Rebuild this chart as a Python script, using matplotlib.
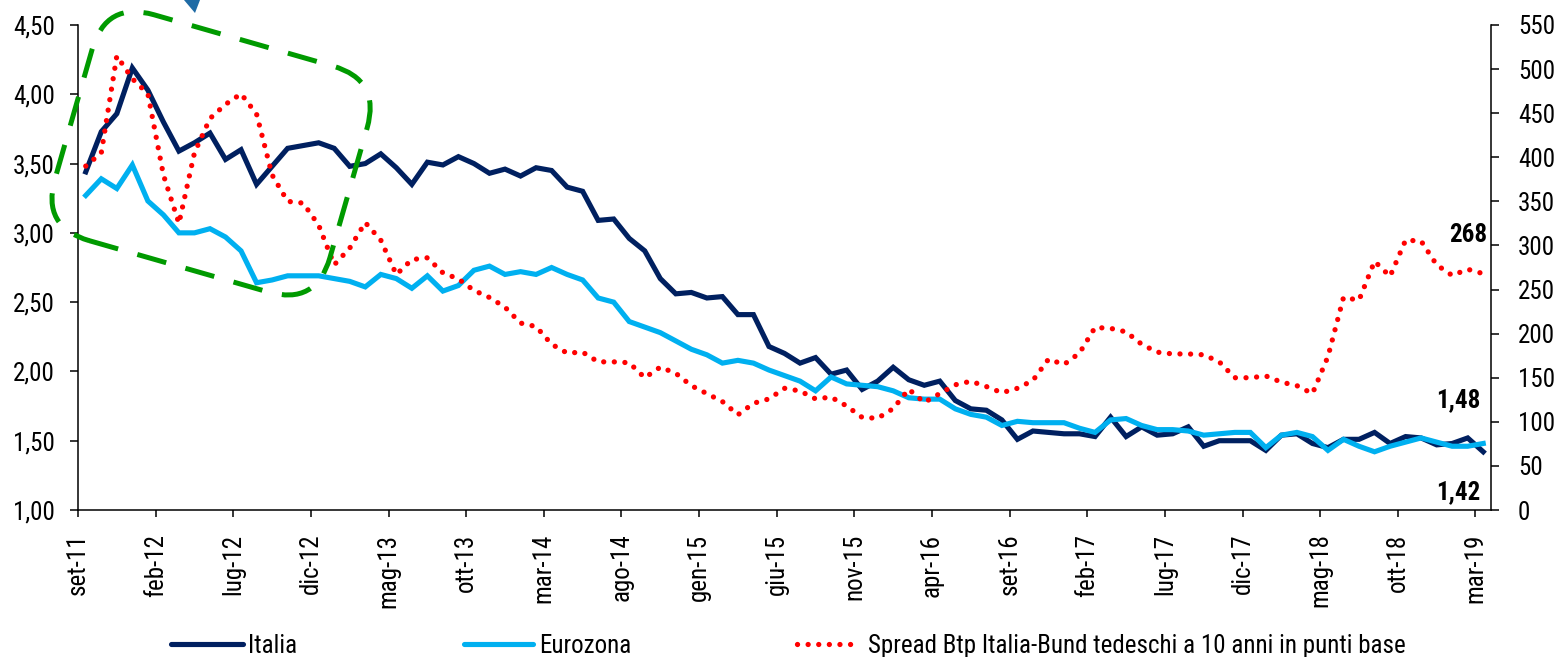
import matplotlib
matplotlib.use("Agg")
import matplotlib.pyplot as plt
from matplotlib import font_manager
from matplotlib.patches import FancyBboxPatch, Polygon
from matplotlib.lines import Line2D
from matplotlib.transforms import Affine2D
from matplotlib.ticker import FuncFormatter, MultipleLocator

# --- data (monthly, set-11 .. mar-19) ---
italia = [3.44, 3.73, 3.86, 4.19, 4.03, 3.80, 3.59, 3.65, 3.72, 3.53,
          3.60, 3.35, 3.48, 3.61, 3.63, 3.65, 3.61, 3.48, 3.50, 3.57,
          3.47, 3.35, 3.51, 3.49, 3.55, 3.50, 3.43, 3.46, 3.41, 3.47,
          3.45, 3.33, 3.30, 3.09, 3.10, 2.96, 2.87, 2.67, 2.56, 2.57,
          2.53, 2.54, 2.41, 2.41, 2.18, 2.13, 2.06, 2.10, 1.98, 2.01,
          1.87, 1.93, 2.03, 1.94, 1.90, 1.93, 1.79, 1.73, 1.72, 1.65,
          1.51, 1.57, 1.56, 1.55, 1.55, 1.53, 1.67, 1.53, 1.60, 1.54,
          1.55, 1.60, 1.46, 1.50, 1.50, 1.50, 1.43, 1.54, 1.55, 1.48,
          1.45, 1.51, 1.51, 1.56, 1.48, 1.53, 1.52, 1.47, 1.48, 1.52,
          1.42]
eurozona = [3.27, 3.39, 3.32, 3.49, 3.23, 3.13, 3.00, 3.00, 3.03, 2.97,
            2.87, 2.64, 2.66, 2.69, 2.69, 2.69, 2.67, 2.65, 2.61, 2.70,
            2.67, 2.60, 2.69, 2.58, 2.62, 2.73, 2.76, 2.70, 2.72, 2.70,
            2.75, 2.70, 2.66, 2.53, 2.50, 2.36, 2.32, 2.28, 2.22, 2.16,
            2.12, 2.06, 2.08, 2.06, 2.01, 1.97, 1.93, 1.86, 1.96, 1.91,
            1.90, 1.89, 1.86, 1.81, 1.80, 1.80, 1.73, 1.69, 1.67, 1.61,
            1.64, 1.63, 1.63, 1.63, 1.59, 1.56, 1.65, 1.66, 1.61, 1.58,
            1.58, 1.57, 1.54, 1.55, 1.56, 1.56, 1.45, 1.54, 1.56, 1.53,
            1.43, 1.51, 1.46, 1.42, 1.46, 1.49, 1.52, 1.49, 1.46, 1.46,
            1.48]
spread = [390, 405, 515, 489, 472, 380, 325, 405, 444, 460,
          472, 449, 380, 350, 348, 323, 278, 297, 326, 306,
          267, 284, 286, 269, 262, 249, 241, 230, 212, 208,
          188, 178, 179, 168, 168, 167, 150, 162, 155, 141,
          132, 123, 108, 121, 126, 138, 135, 126, 128, 118,
          105, 104, 115, 137, 122, 132, 142, 146, 140, 133,
          138, 147, 171, 165, 178, 207, 206, 202, 188, 179,
          177, 177, 176, 168, 150, 150, 152, 145, 141, 132,
          174, 241, 238, 282, 265, 306, 305, 278, 266, 273,
          268]
tick_labels = ["set-11", "feb-12", "lug-12", "dic-12", "mag-13", "ott-13",
               "mar-14", "ago-14", "gen-15", "giu-15", "nov-15", "apr-16",
               "set-16", "feb-17", "lug-17", "dic-17", "mag-18", "ott-18",
               "mar-19"]
series_names = ["Italia", "Eurozona",
                "Spread Btp Italia-Bund tedeschi a 10 anni in punti base"]

C_ITA, C_EUR, C_SPR = "#002060", "#00B0F0", "#FF0000"

# narrow sans (Arial Narrow look-alike) if one is installed
names = {f.name for f in font_manager.fontManager.ttflist}
FONT = next((n for n in ["Liberation Sans Narrow", "Nimbus Sans Narrow", "Arial Narrow",
                         "Roboto Condensed", "Archivo Narrow"] if n in names),
            "Liberation Sans")
plt.rcParams["font.family"] = [FONT, "DejaVu Sans"]
FS = 18 if FONT != "Liberation Sans" else 16

W, H = 1566, 657
fig = plt.figure(figsize=(W / 100, H / 100), dpi=100)
ax = fig.add_axes([78 / W, 1 - 510 / H, (1491 - 78) / W, (510 - 25) / H])
ax2 = ax.twinx()

x = [i + 0.5 for i in range(len(italia))]
ax.plot(x, italia, color=C_ITA, lw=3.7, solid_joinstyle="miter")
ax.plot(x, eurozona, color=C_EUR, lw=3.7, solid_joinstyle="miter")
ax2.plot(x, spread, color=C_SPR, lw=3.8, ls=(0, (0.01, 2.0)),
         dash_capstyle="round")

ax.set_xlim(0, 91)
ax.set_ylim(1, 4.5)
ax2.set_ylim(0, 550)
ax.set_xticks(range(0, 91, 5))
ax.set_xticklabels(tick_labels, rotation=90)
ax.yaxis.set_major_locator(MultipleLocator(0.5))
ax.yaxis.set_major_formatter(FuncFormatter(lambda v, p: f"{v:.2f}".replace(".", ",")))
ax2.yaxis.set_major_locator(MultipleLocator(50))

for a in (ax, ax2):
    for s in a.spines.values():
        s.set_linewidth(1.1)
    a.spines["top"].set_visible(False)
ax.spines["right"].set_visible(False)
ax2.spines["left"].set_visible(False)
ax2.spines["bottom"].set_visible(False)
ax.tick_params(axis="x", direction="out", length=5, width=1.1, labelsize=FS, pad=12)
ax.tick_params(axis="y", direction="out", length=5.5, width=1.1, labelsize=FS, pad=11)
ax2.tick_params(axis="y", direction="out", length=5.5, width=1.1, labelsize=FS, pad=14)

# end-of-series labels
ax2.text(89.5, 312, "268", ha="center", va="center", fontsize=FS, fontweight="bold")
ax.text(88.9, 1.79, "1,48", ha="center", va="center", fontsize=FS, fontweight="bold")
ax.text(88.9, 1.13, "1,42", ha="center", va="center", fontsize=FS, fontweight="bold")

# green dashed highlight box (figure pixels, y up)
px = Affine2D().scale(1 / W, 1 / H) + fig.transFigure
box_tr = Affine2D().rotate_deg(-16).translate(106, H - 1) + px
box = FancyBboxPatch((0, -235), 286, 235, boxstyle="round,pad=0,rounding_size=50",
                     fill=False, ec="#009A00", lw=3.6, ls=(0, (6, 4)),
                     transform=box_tr, zorder=10)
fig.add_artist(box)
fig.add_artist(Polygon([(184, H), (200, H), (195, H - 13)], closed=True,
                       fc="#1F6BA5", ec="none", transform=px, zorder=11))

# legend
ly, ty = H - 644, H - 653
fig.add_artist(Line2D([171, 243], [ly, ly], color=C_ITA, lw=3.7,
                      solid_capstyle="round", transform=px))
fig.add_artist(Line2D([464, 533], [ly, ly], color=C_EUR, lw=3.7,
                      solid_capstyle="round", transform=px))
fig.add_artist(Line2D([797, 857], [ly, ly], color=C_SPR, lw=3.8,
                      ls=(0, (0.01, 2.0)), dash_capstyle="round", transform=px))
for tx, name in zip([248, 539, 868], series_names):
    fig.text(tx, ty, name, transform=px, fontsize=FS, va="baseline", ha="left")

fig.savefig("out.png", dpi=100)
